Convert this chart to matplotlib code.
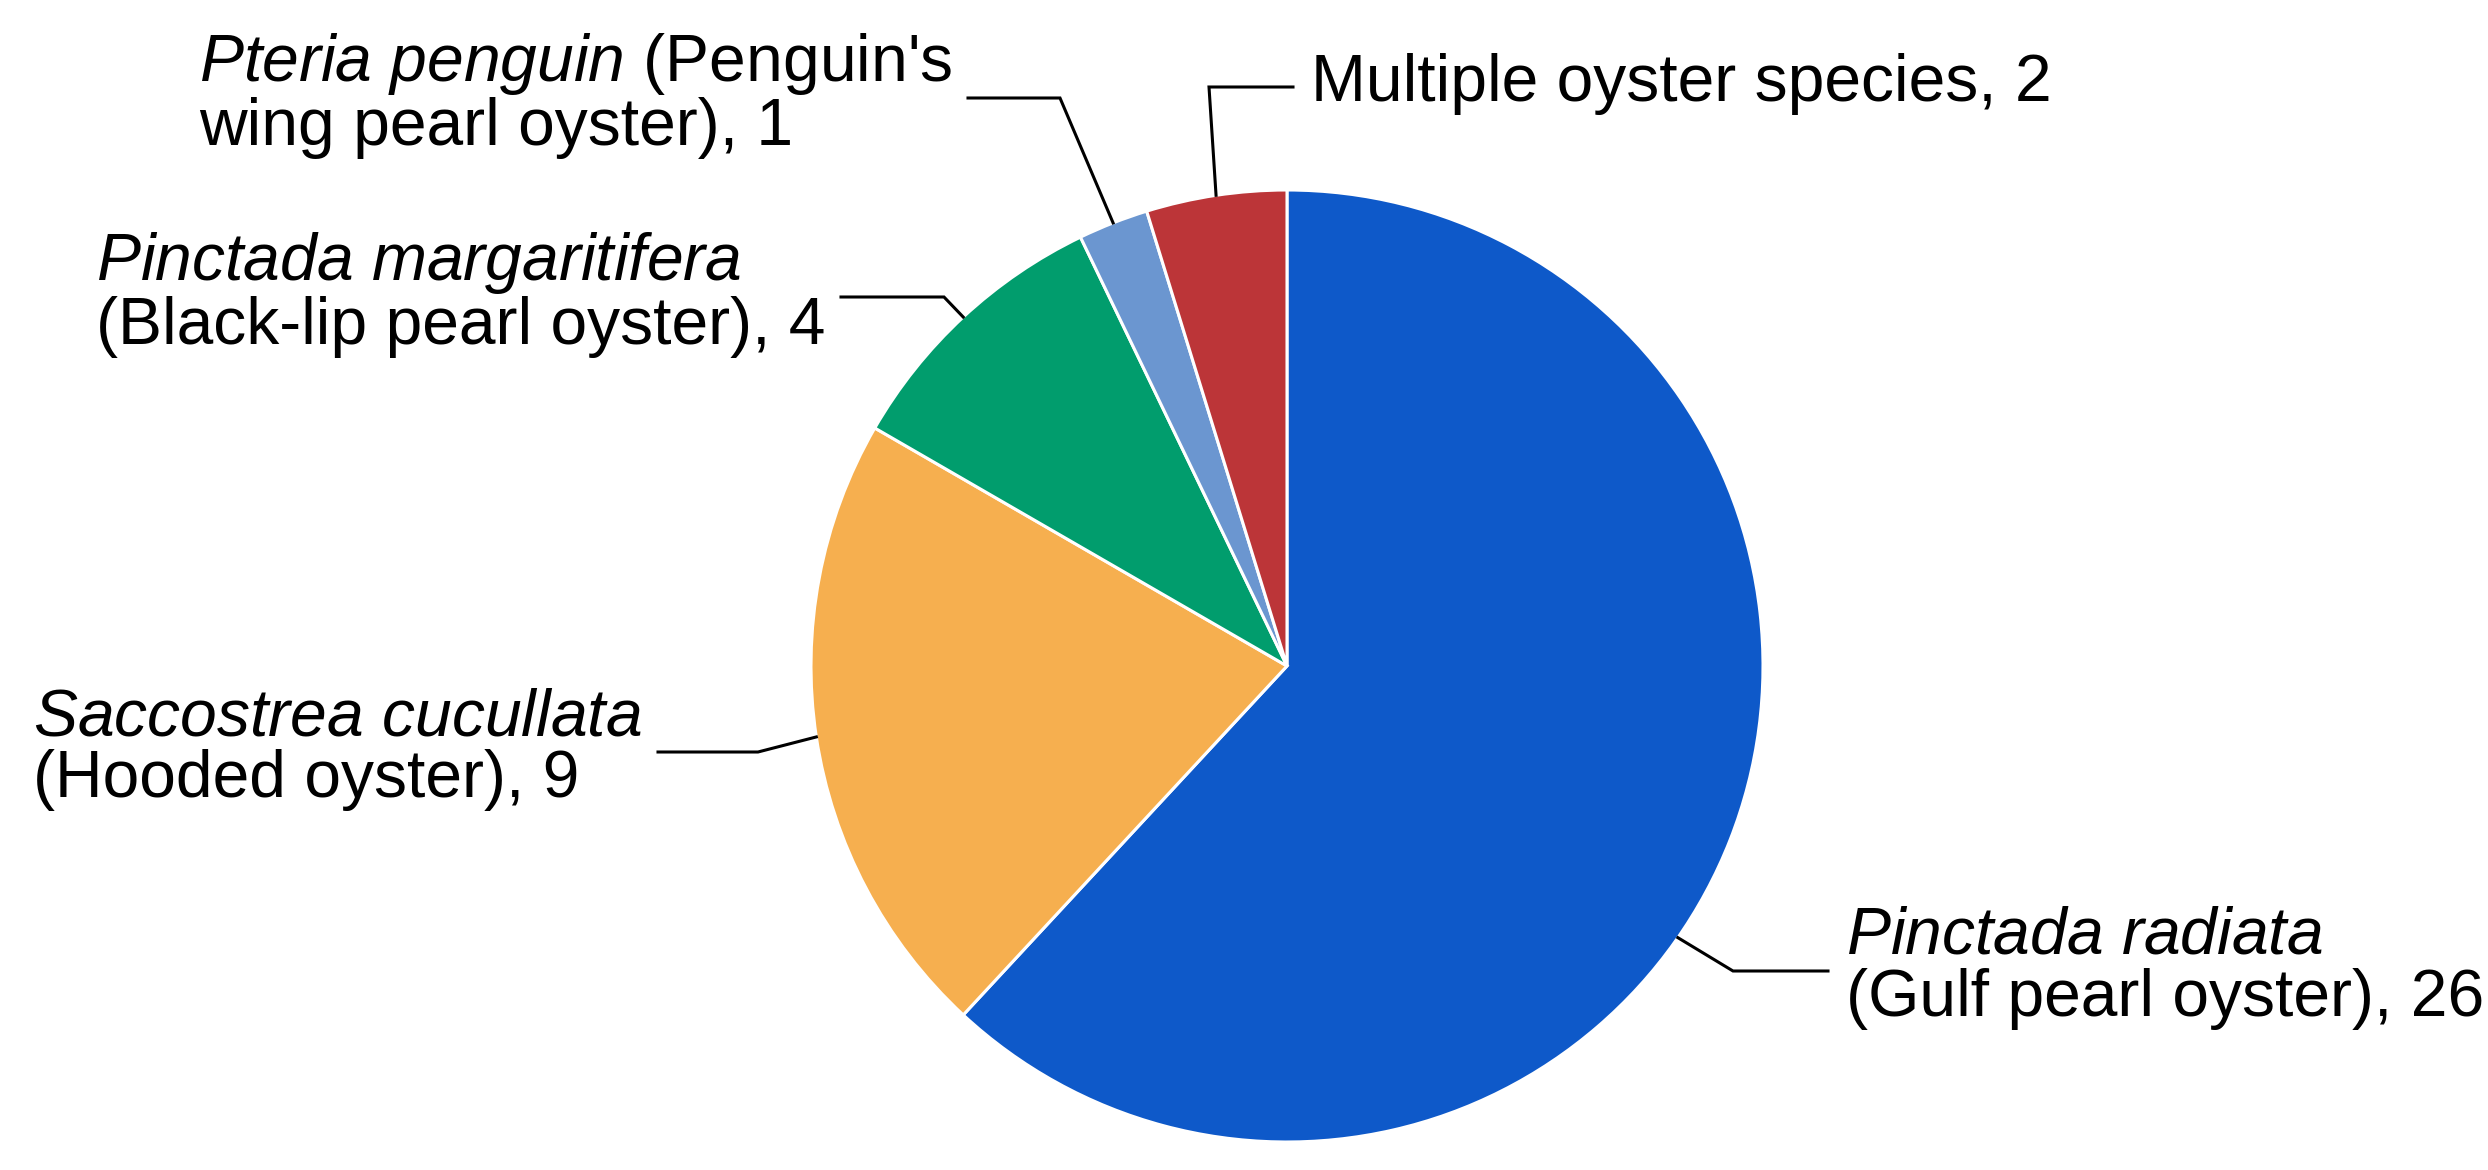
import numpy as np
import matplotlib
matplotlib.use("Agg")
import matplotlib.pyplot as plt

plt.rcParams['font.family'] = ['Liberation Sans', 'DejaVu Sans']
plt.rcParams['mathtext.fontset'] = 'custom'
plt.rcParams['mathtext.rm'] = 'Liberation Sans'
plt.rcParams['mathtext.it'] = 'Liberation Sans:italic'

# dades (ordre horari des de dalt)
especies = ["Pinctada radiata", "Saccostrea cucullata", "Pinctada margaritifera",
            "Pteria penguin", "Multiple oyster species"]
valors = [26, 9, 4, 1, 2]
colors = ["#0E59C9", "#F6AF4F", "#019D6D", "#6B96D0", "#BC3538"]

etiquetes = [
    r"$\mathit{Pinctada\ radiata}$" + "\n(Gulf pearl oyster), 26",
    r"$\mathit{Saccostrea\ cucullata}$" + "\n(Hooded oyster), 9",
    r"$\mathit{Pinctada\ margaritifera}$" + "\n(Black-lip pearl oyster), 4",
    r"$\mathit{Pteria\ penguin}$" + " (Penguin's\nwing pearl oyster), 1",
    "Multiple oyster species, 2",
]

W, H = 2488, 1170
fig = plt.figure(figsize=(W / 100, H / 100), dpi=100)
ax = fig.add_axes([0, 0, 1, 1])

cx, cy, R = 1287, 666, 476
wedges, _ = ax.pie(valors, colors=colors, startangle=90, counterclock=False,
                   center=(cx, H - cy), radius=R,
                   wedgeprops=dict(edgecolor='white', linewidth=2.2))

# punt d'ancoratge dins de cada porció, colze i final de la línia (px des de dalt)
frac = [0.44, 0.5, 0.5, 0.5, 0.5]
colzes = [(1733, 971), (758, 752), (944, 297), (1060, 98), (1209, 87)]
finals = [(1828, 971), (658, 752), (841, 297), (968, 98), (1293, 87)]
costat = ['left', 'right', 'right', 'right', 'left']

for w, f, (ex, ey), (fx, fy), ha, txt in zip(wedges, frac, colzes, finals, costat, etiquetes):
    ang = np.deg2rad(w.theta1 + f * (w.theta2 - w.theta1))
    ax_, ay_ = cx + R * np.cos(ang), (H - cy) + R * np.sin(ang)
    ax.plot([ax_, ex, fx], [ay_, H - ey, H - fy], color='black', lw=2.2,
            solid_joinstyle='miter')
    tx = fx + 18 if ha == 'left' else fx - 16
    ax.text(tx, H - fy + 3, txt, ha=ha, va='center', multialignment='left',
            fontsize=47.5, linespacing=1.0, color='black')

ax.set_xlim(0, W)
ax.set_ylim(0, H)
ax.set_aspect('equal')
ax.axis('off')

fig.savefig("out.png", dpi=100, facecolor='white')
